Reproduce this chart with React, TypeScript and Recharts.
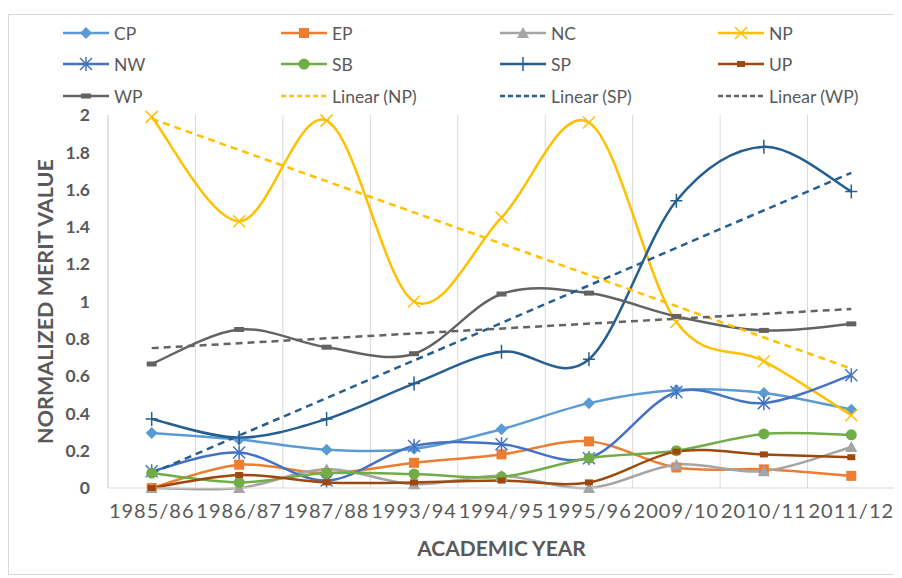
import React from 'react'
import { LineChart, Line, XAxis, YAxis, CartesianGrid, Legend } from 'recharts'

// academic years on the category axis
const years = ['1985/86', '1986/87', '1987/88', '1993/94', '1994/95', '1995/96', '2009/10', '2010/11', '2011/12']

// normalized merit values per province
const cp = [0.295, 0.26, 0.205, 0.21, 0.315, 0.455, 0.525, 0.51, 0.42]
const ep = [0.0, 0.125, 0.08, 0.135, 0.18, 0.25, 0.11, 0.1, 0.065]
const nc = [0.0, 0.0, 0.1, 0.02, 0.065, 0.0, 0.125, 0.09, 0.22]
const np = [1.99, 1.43, 1.97, 1.0, 1.45, 1.96, 0.89, 0.68, 0.39]
const nw = [0.09, 0.19, 0.04, 0.225, 0.235, 0.16, 0.515, 0.455, 0.605]
const sb = [0.08, 0.03, 0.08, 0.075, 0.06, 0.16, 0.2, 0.29, 0.285]
const sp = [0.37, 0.27, 0.37, 0.56, 0.73, 0.69, 1.54, 1.83, 1.59]
const up = [0.0, 0.07, 0.03, 0.03, 0.04, 0.03, 0.195, 0.18, 0.165]
const wp = [0.665, 0.85, 0.755, 0.72, 1.04, 1.045, 0.92, 0.845, 0.88]

// trend line end values (first year, last year)
const npTrend = [1.98, 0.64]
const spTrend = [0.08, 1.69]
const wpTrend = [0.75, 0.96]

const yTicks = [0, 0.2, 0.4, 0.6, 0.8, 1, 1.2, 1.4, 1.6, 1.8, 2]

const FONT = 'Lato, "Open Sans", sans-serif'
const TEXT = '#595959'

type Marker = 'diamond' | 'square' | 'triangle' | 'x' | 'asterisk' | 'circle' | 'plus' | 'dash' | 'smallsq' | 'none'

const series: { key: string; name: string; color: string; marker: Marker; values: number[] }[] = [
  { key: 'CP', name: 'CP', color: '#5B9BD5', marker: 'diamond', values: cp },
  { key: 'EP', name: 'EP', color: '#ED7D31', marker: 'square', values: ep },
  { key: 'NC', name: 'NC', color: '#A5A5A5', marker: 'triangle', values: nc },
  { key: 'NP', name: 'NP', color: '#FFC000', marker: 'x', values: np },
  { key: 'NW', name: 'NW', color: '#4472C4', marker: 'asterisk', values: nw },
  { key: 'SB', name: 'SB', color: '#70AD47', marker: 'circle', values: sb },
  { key: 'SP', name: 'SP', color: '#255E91', marker: 'plus', values: sp },
  { key: 'UP', name: 'UP', color: '#9E480E', marker: 'smallsq', values: up },
  { key: 'WP', name: 'WP', color: '#636363', marker: 'dash', values: wp },
]

const trends = [
  { key: 'tNP', name: 'Linear (NP)', color: '#FFC000', ends: npTrend },
  { key: 'tSP', name: 'Linear (SP)', color: '#255E91', ends: spTrend },
  { key: 'tWP', name: 'Linear (WP)', color: '#636363', ends: wpTrend },
]

const data = years.map((year, i) => {
  const row: Record<string, any> = { year }
  series.forEach(s => { row[s.key] = s.values[i] })
  trends.forEach(t => {
    row[t.key] = i === 0 ? t.ends[0] : i === years.length - 1 ? t.ends[1] : null
  })
  return row
})

// Excel-like smoothed line (bezier through points, catmull-rom style handles)
const smooth = (context: any) => {
  let pts: number[][] = []
  return {
    areaStart() {},
    areaEnd() {},
    lineStart() { pts = [] },
    point(x: number, y: number) { pts.push([+x, +y]) },
    lineEnd() {
      const n = pts.length
      if (!n) return
      context.moveTo(pts[0][0], pts[0][1])
      for (let i = 0; i < n - 1; i++) {
        const p0 = pts[Math.max(i - 1, 0)]
        const p1 = pts[i]
        const p2 = pts[i + 1]
        const p3 = pts[Math.min(i + 2, n - 1)]
        context.bezierCurveTo(
          p1[0] + (p2[0] - p0[0]) / 6, p1[1] + (p2[1] - p0[1]) / 6,
          p2[0] - (p3[0] - p1[0]) / 6, p2[1] - (p3[1] - p1[1]) / 6,
          p2[0], p2[1]
        )
      }
    },
  }
}

function drawMarker(marker: Marker, x: number, y: number, color: string) {
  switch (marker) {
    case 'diamond':
      return <path d={`M${x},${y - 6}L${x + 6},${y}L${x},${y + 6}L${x - 6},${y}Z`} fill={color} />
    case 'square':
      return <rect x={x - 5} y={y - 5} width={10} height={10} fill={color} />
    case 'triangle':
      return <path d={`M${x},${y - 6}L${x + 6},${y + 5}L${x - 6},${y + 5}Z`} fill={color} />
    case 'x':
      return <path d={`M${x - 6},${y - 6}L${x + 6},${y + 6}M${x - 6},${y + 6}L${x + 6},${y - 6}`} stroke={color} strokeWidth={1.5} />
    case 'asterisk':
      return <path d={`M${x - 6},${y - 6}L${x + 6},${y + 6}M${x - 6},${y + 6}L${x + 6},${y - 6}M${x},${y - 7}L${x},${y + 7}`} stroke={color} strokeWidth={1.5} />
    case 'circle':
      return <circle cx={x} cy={y} r={5.5} fill={color} />
    case 'plus':
      return <path d={`M${x - 6},${y}L${x + 6},${y}M${x},${y - 7}L${x},${y + 7}`} stroke={color} strokeWidth={1.5} />
    case 'dash':
      return <rect x={x - 5} y={y - 2.5} width={10} height={5} fill={color} />
    case 'smallsq':
      return <rect x={x - 4} y={y - 3} width={8} height={6} fill={color} />
    default:
      return null
  }
}

const legendItems = [
  ...series.map(s => ({ name: s.name, color: s.color, marker: s.marker, dashed: false })),
  ...trends.map(t => ({ name: t.name, color: t.color, marker: 'none' as Marker, dashed: true })),
]

function ChartLegend() {
  const colX = [54, 272, 491, 709]
  const rowY = [18, 49, 81]
  return (
    <div style={{ position: 'relative', width: 889, height: 100 }}>
      {legendItems.map((it, i) => (
        <div
          key={it.name}
          style={{
            position: 'absolute',
            left: colX[i % 4],
            top: rowY[Math.floor(i / 4)] - 10,
            height: 20,
            display: 'flex',
            alignItems: 'center',
            fontFamily: FONT,
            fontSize: 17.5,
            color: TEXT,
            whiteSpace: 'nowrap',
          }}
        >
          <svg width={46} height={16} style={{ marginRight: 5 }}>
            <line x1={0} y1={8} x2={46} y2={8} stroke={it.color} strokeWidth={2.5} strokeDasharray={it.dashed ? '5 3' : undefined} />
            {drawMarker(it.marker, 23, 8, it.color)}
          </svg>
          {it.name}
        </div>
      ))}
    </div>
  )
}

export default function App() {
  const W = 889
  const H = 559
  return (
    <div style={{ width: W, height: H, marginTop: 6, border: '1px solid #d9d9d9', background: '#fff' }}>
      <LineChart width={W} height={H} data={data} margin={{ top: 100, right: 3, bottom: 56, left: 39 }}>
        <CartesianGrid
          horizontal={false}
          stroke="#d9d9d9"
          verticalCoordinatesGenerator={({ offset }: any) => {
            const step = offset.width / years.length
            return years.map((_, i) => offset.left + i * step).concat([offset.left + offset.width])
          }}
        />
        <XAxis
          dataKey="year"
          height={30}
          padding={{ left: 43.7, right: 43.7 }}
          axisLine={{ stroke: '#d9d9d9' }}
          tickLine={false}
          tickSize={0}
          tickMargin={16}
          interval={0}
          tick={{ fill: TEXT, fontSize: 20, fontFamily: FONT, letterSpacing: 1 }}
          label={{
            content: ({ viewBox }: any) => (
              <text x={viewBox.x + viewBox.width / 2} y={532} textAnchor="middle" dominantBaseline="central" fill={TEXT} fontFamily={FONT} fontSize={21} fontWeight="bold">
                ACADEMIC YEAR
              </text>
            ),
          }}
        />
        <YAxis
          width={60}
          domain={[0, 2]}
          ticks={yTicks}
          axisLine={{ stroke: '#d9d9d9' }}
          tickLine={false}
          tickSize={0}
          tickMargin={18}
          tickFormatter={(v: number) => String(Math.round(v * 10) / 10)}
          tick={{ fill: TEXT, fontSize: 17.5, fontFamily: FONT, fontWeight: 'bold' }}
          label={{
            content: ({ viewBox }: any) => (
              <text
                x={36}
                y={viewBox.y + viewBox.height / 2}
                transform={`rotate(-90, 36, ${viewBox.y + viewBox.height / 2})`}
                textAnchor="middle"
                dominantBaseline="central"
                fill={TEXT}
                fontFamily={FONT}
                fontSize={21.5}
                fontWeight="bold"
              >
                NORMALIZED MERIT VALUE
              </text>
            ),
          }}
        />
        <Legend
          layout="horizontal"
          verticalAlign="middle"
          align="center"
          wrapperStyle={{ top: 0, left: 0, width: W, height: 100 }}
          content={() => <ChartLegend />}
        />
        {series.map(s => (
          <Line
            key={s.key}
            dataKey={s.key}
            name={s.name}
            type={smooth as any}
            stroke={s.color}
            strokeWidth={2.5}
            isAnimationActive={false}
            activeDot={false}
            dot={(p: any) => (
              <g key={`${s.key}-${p.index}`}>{p.cy == null ? null : drawMarker(s.marker, p.cx, p.cy, s.color)}</g>
            )}
          />
        ))}
        {trends.map(t => (
          <Line
            key={t.key}
            dataKey={t.key}
            name={t.name}
            type="linear"
            connectNulls
            stroke={t.color}
            strokeWidth={2.5}
            strokeDasharray="7 5"
            dot={false}
            activeDot={false}
            legendType="none"
            isAnimationActive={false}
          />
        ))}
      </LineChart>
    </div>
  )
}
